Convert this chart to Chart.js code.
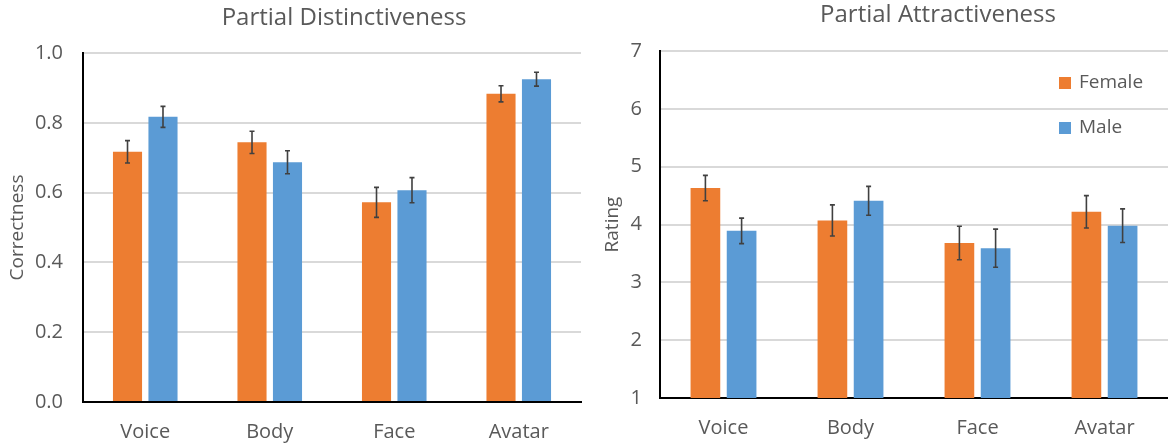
<!DOCTYPE html>
<html>
<head>
<meta charset="utf-8">
<script src="https://cdn.jsdelivr.net/npm/chart.js@4/dist/chart.umd.min.js"></script>
<style>
  html, body { margin: 0; padding: 0; background: #fff; }
  #wrap { position: relative; width: 1168px; height: 445px; overflow: hidden; }
  .panel { position: absolute; top: 0; height: 445px; }
  #left { left: 0; width: 590px; }
  #right { left: 590px; width: 578px; }
</style>
</head>
<body>
<div id="wrap">
  <div class="panel" id="left"><canvas id="distinctChart" width="590" height="445"></canvas></div>
  <div class="panel" id="right"><canvas id="attractChart" width="578" height="445"></canvas></div>
</div>
<script>
// Data
const categories = ['Voice', 'Body', 'Face', 'Avatar'];
const seriesNames = ['Female', 'Male'];

const distinctFemale = [0.717, 0.744, 0.572, 0.883];
const distinctMale = [0.817, 0.687, 0.607, 0.925];
const distinctFemaleErr = [0.032, 0.032, 0.043, 0.023];
const distinctMaleErr = [0.030, 0.033, 0.036, 0.020];

const ratingFemale = [4.63, 4.07, 3.68, 4.22];
const ratingMale = [3.89, 4.41, 3.59, 3.98];
const ratingFemaleErr = [0.22, 0.27, 0.29, 0.28];
const ratingMaleErr = [0.22, 0.25, 0.33, 0.29];

const ORANGE = '#ED7D31';
const BLUE = '#5B9BD5';
const TEXT = '#595959';

Chart.defaults.font.family = '"Open Sans", sans-serif';
Chart.defaults.color = TEXT;

// error bars drawn from each dataset's errors array
const errorBars = {
    id: 'errorBars',
    afterDatasetsDraw(chart) {
        const ctx = chart.ctx;
        const yScale = chart.scales.y;
        ctx.save();
        ctx.strokeStyle = '#404040';
        ctx.lineWidth = 1.6;
        chart.data.datasets.forEach((ds, i) => {
            const meta = chart.getDatasetMeta(i);
            meta.data.forEach((bar, j) => {
                const v = ds.data[j], e = ds.errors[j];
                const yTop = yScale.getPixelForValue(v + e);
                const yBot = yScale.getPixelForValue(v - e);
                ctx.beginPath();
                ctx.moveTo(bar.x, yTop); ctx.lineTo(bar.x, yBot);
                ctx.moveTo(bar.x - 2.5, yTop); ctx.lineTo(bar.x + 2.5, yTop);
                ctx.moveTo(bar.x - 2.5, yBot); ctx.lineTo(bar.x + 2.5, yBot);
                ctx.stroke();
            });
        });
        ctx.restore();
    }
};

// title placed freely (the figure's titles are not centred on the plot)
const panelTitle = {
    id: 'panelTitle',
    afterDraw(chart, args, opts) {
        const ctx = chart.ctx;
        ctx.save();
        ctx.font = '24px "Open Sans", sans-serif';
        ctx.fillStyle = TEXT;
        ctx.textAlign = 'center';
        ctx.textBaseline = 'middle';
        ctx.fillText(opts.text, opts.x, opts.y);
        ctx.restore();
    }
};

// legend inside the plot area, built from the datasets
const insideLegend = {
    id: 'insideLegend',
    afterDraw(chart, args, opts) {
        if (!opts.show) return;
        const ctx = chart.ctx;
        ctx.save();
        ctx.font = '19px "Open Sans", sans-serif';
        ctx.textBaseline = 'middle';
        chart.data.datasets.forEach((ds, i) => {
            const y = opts.y + i * opts.gap;
            ctx.fillStyle = ds.backgroundColor;
            ctx.fillRect(opts.x, y - 6, 12, 12);
            ctx.fillStyle = TEXT;
            ctx.fillText(ds.label, opts.x + 20, y);
        });
        ctx.restore();
    }
};

function makeChart(id, female, male, femaleErr, maleErr, cfg) {
    return new Chart(document.getElementById(id), {
        type: 'bar',
        data: {
            labels: categories,
            datasets: [
                { label: seriesNames[0], data: female, errors: femaleErr, backgroundColor: ORANGE,
                  categoryPercentage: 0.57, barPercentage: 0.82 },
                { label: seriesNames[1], data: male, errors: maleErr, backgroundColor: BLUE,
                  categoryPercentage: 0.57, barPercentage: 0.82 }
            ]
        },
        options: {
            responsive: false,
            animation: false,
            layout: { padding: { top: cfg.top, right: cfg.right, bottom: 0, left: 0 } },
            plugins: {
                legend: { display: false },
                tooltip: { enabled: false },
                panelTitle: cfg.title,
                insideLegend: cfg.legend
            },
            scales: {
                x: {
                    grid: { display: false, drawTicks: false },
                    border: { display: true, color: '#000', width: 2 },
                    ticks: { font: { size: 20 }, padding: 18, color: TEXT },
                    afterFit: (axis) => { axis.height = 445 - cfg.bottomY; }
                },
                y: {
                    min: cfg.min, max: cfg.max,
                    grid: { color: '#d9d9d9', lineWidth: 2, drawTicks: false },
                    border: { display: true, color: '#000', width: 2 },
                    ticks: {
                        stepSize: cfg.step, padding: cfg.tickPad, font: { size: 20 }, color: TEXT,
                        callback: cfg.fmt
                    },
                    title: { display: true, text: cfg.yTitle, font: { size: 19 }, color: TEXT,
                             padding: { top: cfg.titlePad, bottom: 0 } },
                    afterFit: (axis) => { axis.width = cfg.axisW; }
                }
            }
        },
        plugins: [errorBars, panelTitle, insideLegend]
    });
}

makeChart('distinctChart', distinctFemale, distinctMale, distinctFemaleErr, distinctMaleErr, {
    top: 53, right: 9, bottomY: 402, axisW: 83, tickPad: 20, titlePad: 6.5,
    min: 0, max: 1, step: 0.2, fmt: (v) => v.toFixed(1), yTitle: 'Correctness',
    title: { text: 'Partial Distinctiveness', x: 344, y: 18 },
    legend: { show: false }
});

makeChart('attractChart', ratingFemale, ratingMale, ratingFemaleErr, ratingMaleErr, {
    top: 51, right: 0, bottomY: 398, axisW: 70, tickPad: 18, titlePad: 11.5,
    min: 1, max: 7, step: 1, fmt: (v) => String(v), yTitle: 'Rating',
    title: { text: 'Partial Attractiveness', x: 348, y: 15 },
    legend: { show: true, x: 469, y: 83, gap: 45 }
});
</script>
</body>
</html>
